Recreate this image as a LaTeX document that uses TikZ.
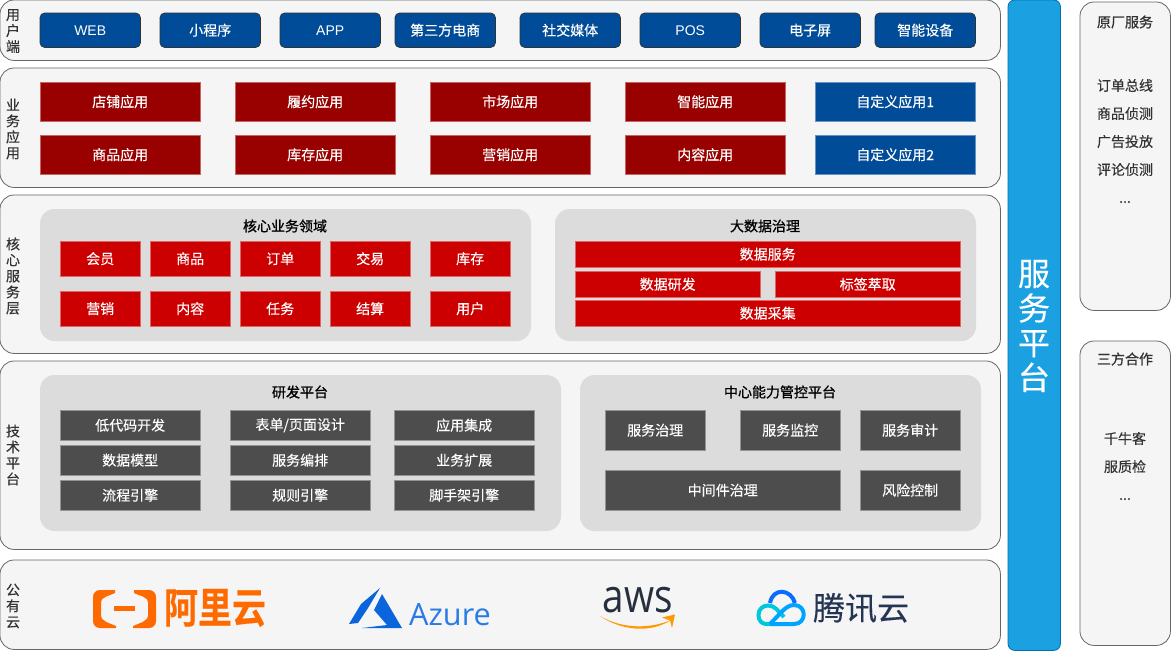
\documentclass[tikz,border=0pt]{standalone}
\usepackage{fontspec}
\setmainfont[FakeBold=0.25,BoldFont={Noto Sans CJK SC Bold}]{Noto Sans CJK SC}
\newfontfamily\titlef[FakeBold=0.9]{Noto Sans CJK SC}
\newfontfamily\latinf{Liberation Sans}
\newfontfamily\azuref{Open Sans}
\definecolor{panelc}{HTML}{F5F5F5}
\definecolor{panelb}{HTML}{666666}
\definecolor{inner}{HTML}{DCDCDC}
\definecolor{bluec}{HTML}{004C99}
\definecolor{maroon}{HTML}{990000}
\definecolor{redc}{HTML}{CC0000}
\definecolor{darkc}{HTML}{4D4D4D}
\definecolor{sky}{HTML}{1BA1E2}
\definecolor{skyb}{HTML}{006EAF}
\definecolor{ali}{HTML}{FF6A00}
\definecolor{azb}{HTML}{0A64DC}
\definecolor{azt}{HTML}{2A7BE4}
\definecolor{awsd}{HTML}{252F3E}
\definecolor{awso}{HTML}{FF9900}
\definecolor{tx}{HTML}{333333}
\definecolor{tctop}{HTML}{0A6CFF}
\definecolor{tcleft}{HTML}{00C8DC}
\definecolor{tcright}{HTML}{00A4FF}
\definecolor{tctext}{HTML}{253554}
\tikzset{
 x=0.75pt,y=-0.75pt,
 every node/.style={inner sep=0pt,outer sep=0pt,align=center,font=\fontsize{10.5}{12}\selectfont},
 panel/.style={draw=panelb,fill=panelc,line width=0.6pt,rounded corners=10.5pt,text=tx},
 innerp/.style={draw=none,fill=inner,rounded corners=11pt},
 userbox/.style={draw=black!80,fill=bluec,rounded corners=3.5pt,text=white,line width=0.6pt},
 appbox/.style={draw=maroon!60!white,fill=maroon,text=white,line width=0.5pt},
 bluebox/.style={draw=bluec!60!white,fill=bluec,text=white,line width=0.5pt},
 redbox/.style={draw=redc!60!white,fill=redc,text=white,line width=0.5pt},
 darkbox/.style={draw=darkc!60!white,fill=darkc,text=white,line width=0.5pt},
 sidelabel/.style={text=tx,font=\fontsize{10.5}{12}\selectfont},
 titlelabel/.style={text=black,font=\fontsize{10.5}{12}\selectfont\titlef},
 listlabel/.style={text=tx,font=\fontsize{10.5}{21}\selectfont},
}
% \bx{name}{x1}{y1}{x2}{y2}{style}{text}
\newcommand{\bx}[7]{%
 \pgfmathsetmacro{\cxv}{(#2+#4-0.6)/2}\pgfmathsetmacro{\cyv}{(#3+#5-0.6)/2}%
 \pgfmathsetmacro{\wv}{(#4-#2-0.6)*0.75}\pgfmathsetmacro{\hv}{(#5-#3-0.6)*0.75}%
 \node[#6,minimum width=\wv pt,minimum height=\hv pt] (#1) at (\cxv,\cyv) {\raisebox{-1pt}{#7}};}
\begin{document}
\begin{tikzpicture}
\useasboundingbox (0,0) rectangle (1171,651);
\fill[white] (0,0) rectangle (1171,651);
% panels
\bx{pUser}{0}{0}{1001}{61}{panel}{}
\bx{pBiz}{0}{68}{1001}{188}{panel}{}
\bx{pCore}{0}{195}{1001}{354}{panel}{}
\bx{pTech}{0}{361}{1001}{550}{panel}{}
\bx{pCloud}{0}{560}{1001}{650}{panel}{}
% side labels
\node[sidelabel] (lUser) at (13,31) {用\\户\\端};
\node[sidelabel] (lBiz) at (13,129) {业\\务\\应\\用};
\node[sidelabel] (lCore) at (13,276) {核\\心\\服\\务\\层};
\node[sidelabel] (lTech) at (13,455) {技\\术\\平\\台};
\node[sidelabel] (lCloud) at (13,606) {公\\有\\云};
% user row
\bx{u1}{40}{13}{141}{48}{userbox}{\latinf WEB}
\bx{u2}{160}{13}{261}{48}{userbox}{小程序}
\bx{u3}{280}{13}{381}{48}{userbox}{\latinf APP}
\bx{u4}{395}{13}{496}{48}{userbox}{第三方电商}
\bx{u5}{520}{13}{621}{48}{userbox}{社交媒体}
\bx{u6}{640}{13}{741}{48}{userbox}{\latinf POS}
\bx{u7}{760}{13}{861}{48}{userbox}{电子屏}
\bx{u8}{875}{13}{976}{48}{userbox}{智能设备}
% apps
\bx{a1}{40}{82}{201}{122}{appbox}{店铺应用}
\bx{a2}{235}{82}{396}{122}{appbox}{履约应用}
\bx{a3}{430}{82}{591}{122}{appbox}{市场应用}
\bx{a4}{625}{82}{786}{122}{appbox}{智能应用}
\bx{a5}{815}{82}{976}{122}{bluebox}{自定义应用1}
\bx{a6}{40}{135}{201}{175}{appbox}{商品应用}
\bx{a7}{235}{135}{396}{175}{appbox}{库存应用}
\bx{a8}{430}{135}{591}{175}{appbox}{营销应用}
\bx{a9}{625}{135}{786}{175}{appbox}{内容应用}
\bx{a10}{815}{135}{976}{175}{bluebox}{自定义应用2}
% core
\bx{iCore}{40}{209}{531.6}{341.6}{innerp}{}
\bx{iData}{555}{209}{976.6}{341.6}{innerp}{}
\node[titlelabel] (tCore) at (285,226) {核心业务领域};
\node[titlelabel] (tData) at (765,226) {大数据治理};
\bx{c1}{60}{241}{141}{277}{redbox}{会员}
\bx{c2}{150}{241}{231}{277}{redbox}{商品}
\bx{c3}{240}{241}{321}{277}{redbox}{订单}
\bx{c4}{330}{241}{411}{277}{redbox}{交易}
\bx{c5}{430}{241}{511}{277}{redbox}{库存}
\bx{c6}{60}{291}{141}{327}{redbox}{营销}
\bx{c7}{150}{291}{231}{327}{redbox}{内容}
\bx{c8}{240}{291}{321}{327}{redbox}{任务}
\bx{c9}{330}{291}{411}{327}{redbox}{结算}
\bx{c10}{430}{291}{511}{327}{redbox}{用户}
\bx{d1}{575}{241}{961}{268}{redbox}{数据服务}
\bx{d2}{575}{271}{761}{298}{redbox}{数据研发}
\bx{d3}{775}{271}{961}{298}{redbox}{标签萃取}
\bx{d4}{575}{300}{961}{327}{redbox}{数据采集}
% tech
\bx{iDev}{40}{375}{561.6}{531.6}{innerp}{}
\bx{iCtl}{580}{375}{981.6}{531.6}{innerp}{}
\node[titlelabel] (tDev) at (300,392) {研发平台};
\node[titlelabel] (tCtl) at (780,392) {中心能力管控平台};
\bx{t1}{60}{410}{201}{441}{darkbox}{低代码开发}
\bx{t2}{230}{410}{371}{441}{darkbox}{表单/页面设计}
\bx{t3}{394}{410}{535}{441}{darkbox}{应用集成}
\bx{t4}{60}{445}{201}{476}{darkbox}{数据模型}
\bx{t5}{230}{445}{371}{476}{darkbox}{服务编排}
\bx{t6}{394}{445}{535}{476}{darkbox}{业务扩展}
\bx{t7}{60}{480}{201}{511}{darkbox}{流程引擎}
\bx{t8}{230}{480}{371}{511}{darkbox}{规则引擎}
\bx{t9}{394}{480}{535}{511}{darkbox}{脚手架引擎}
\bx{m1}{605}{410}{706}{451}{darkbox}{服务治理}
\bx{m2}{740}{410}{841}{451}{darkbox}{服务监控}
\bx{m3}{860}{410}{961}{451}{darkbox}{服务审计}
\bx{m4}{605}{470}{841}{511}{darkbox}{中间件治理}
\bx{m5}{860}{470}{961}{511}{darkbox}{风险控制}
% service platform
\bx{sp}{1008}{0}{1061}{651}{draw=skyb,fill=sky,rounded corners=5pt,line width=0.6pt}{}
\node[text=white,font=\fontsize{24}{26}\selectfont] (spt) at (1034,326) {服\\务\\平\\台};
% right
\bx{r1}{1080}{2}{1171}{311}{panel}{}
\bx{r2}{1080}{341}{1171}{646}{panel}{}
\node[text=tx,font=\fontsize{10.5}{12}\selectfont\titlef] (rt1) at (1125,22) {原厂服务};
\node[listlabel] (rl1) at (1125,141) {订单总线\\商品侦测\\广告投放\\评论侦测\\...};
\node[text=tx,font=\fontsize{10.5}{12}\selectfont\titlef] (rt2) at (1125,359) {三方合作};
\node[listlabel] (rl2) at (1125,466) {千牛客\\服质检\\...};
% Aliyun logo
\fill[ali] (115,590) -- (100,590) .. controls (96,590) and (93,593) .. (93,597) -- (93,621) .. controls (93,625) and (96,628) .. (100,628) -- (116,628) -- (116,626) .. controls (110,623) and (101,622) .. (101,615) -- (101,603) .. controls (101,596) and (110,596) .. (115,593) -- cycle;
\fill[ali] (134,590) -- (149,590) .. controls (153,590) and (156,593) .. (156,597) -- (156,621) .. controls (156,625) and (153,628) .. (149,628) -- (133,628) -- (133,626) .. controls (139,623) and (148,622) .. (148,615) -- (148,603) .. controls (148,596) and (139,596) .. (134,593) -- cycle;
\fill[ali] (114,606) rectangle (135,610.5);
\node[text=ali,font=\fontsize{29}{30}\selectfont\bfseries,xscale=0.88,yscale=1.08] (ali) at (215,608) {阿里云};
% Azure logo
\fill[azb] (349,624) -- (361,604) -- (380,588) -- (368,608) -- (358,623) -- cycle;
\fill[azb] (382,594) -- (402,628) -- (362,628) -- (387,625) -- (374,610) -- cycle;
\node[text=azt,font=\fontsize{23}{24}\selectfont\azuref] (azure) at (450,615) {Azure};
% AWS logo
\node[text=awsd,font=\fontsize{29}{30}\selectfont\azuref,yscale=1.2] (aws) at (638,600) {aws};
\fill[awso] (600,616) .. controls (620,630) and (650,634) .. (671,620) .. controls (650,629) and (622,629) .. (600,616) -- cycle;
\fill[awso] (662,617.5) -- (675,614.5) -- (672,628) -- (670,620.5) -- cycle;
% Tencent logo
\draw[tcleft,line width=3pt] (772,623.5) .. controls (761,626) and (758.5,620) .. (758.5,615) .. controls (758.5,609) and (763,605.5) .. (768,605.5) .. controls (775,605.5) and (778,611) .. (784,617);
\draw[tctop,line width=3pt] (770,603) .. controls (773,587) and (791,589) .. (795,603);
\draw[tcright,line width=3pt,line join=round] (770,624) -- (794,624) .. controls (807,624) and (807,605) .. (794,605) .. controls (786,605) and (781,613) .. (770,624);
\node[text=tctext,font=\fontsize{24}{26}\selectfont] (tc) at (861,608) {腾讯云};
\end{tikzpicture}
\end{document}
